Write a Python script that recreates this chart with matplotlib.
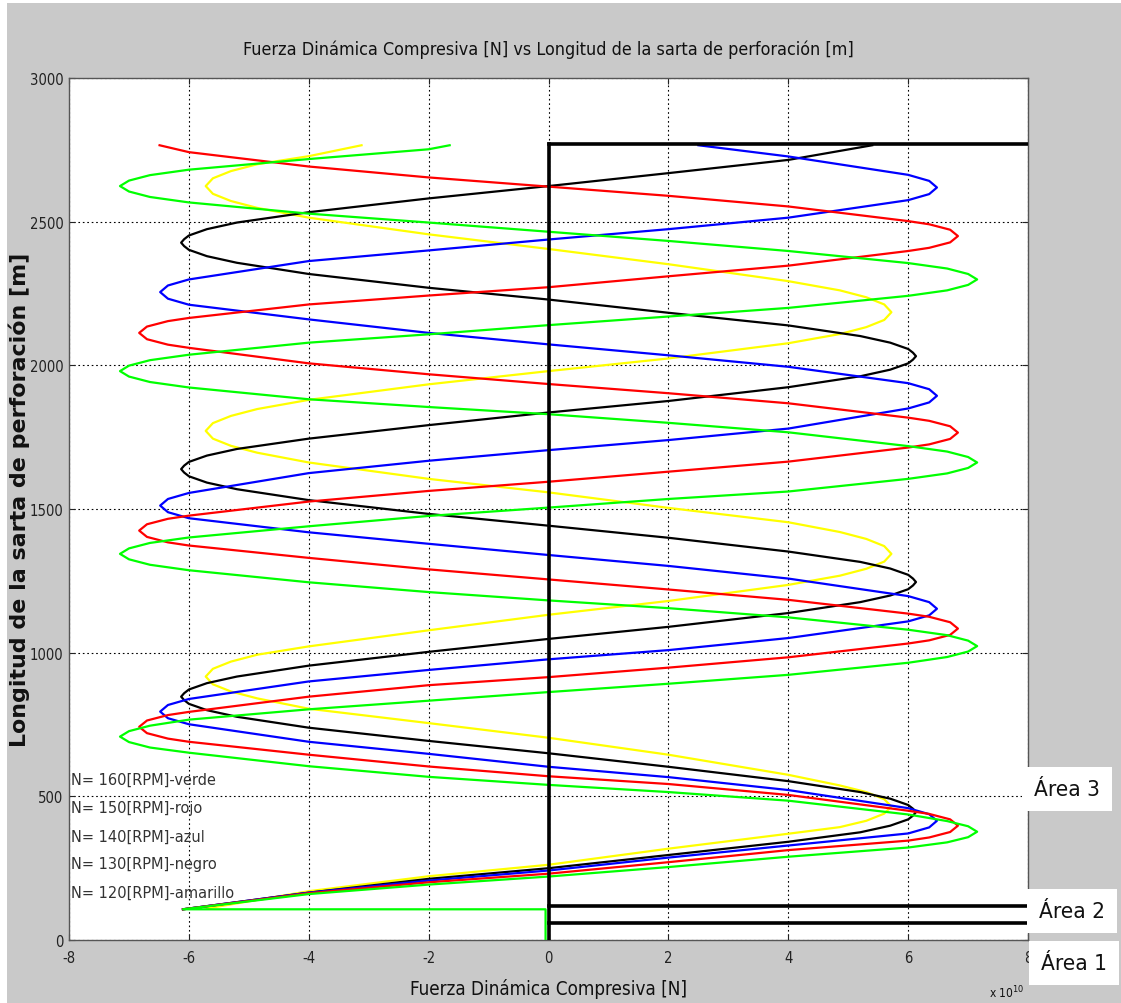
import matplotlib
matplotlib.use("Agg")
import matplotlib.pyplot as plt
from matplotlib import font_manager
from matplotlib.font_manager import FontProperties
from matplotlib.patches import Rectangle

plt.rcParams["axes.unicode_minus"] = False

# Fuerza dinamica compresiva (x 1e10 N) vs longitud de la sarta (m)
verde_x = [-0.05, -0.05, -6.1,
           -4, -2, 0, 2, 4, 6, 6.65, 7.0, 7.15,
           7.0, 6.65, 6, 4, 2, 0, -2, -4, -6, -6.65, -7.0, -7.15,
           -7.0, -6.65, -6, -4, -2, 0, 2, 4, 6, 6.65, 7.0, 7.15,
           7.0, 6.65, 6, 4, 2, 0, -2, -4, -6, -6.65, -7.0, -7.15,
           -7.0, -6.65, -6, -4, -2, 0, 2, 4, 6, 6.65, 7.0, 7.15,
           7.0, 6.65, 6, 4, 2, 0, -2, -4, -6, -6.65, -7.0, -7.15,
           -7.0, -6.65, -6, -4, -2, 0, 2, 4, 6, 6.65, 7.0, 7.15,
           7.0, 6.65, 6, 4, 2, 0, -2, -4, -6, -6.65, -7.0, -7.15,
           -7.0, -6.65, -6, -4, -2, -1.65]
verde_y = [0, 107, 107,
           160, 193, 221, 254, 290, 322, 340, 358, 377,
           396, 414, 437, 485, 515, 540, 568, 605, 652, 670, 689, 708,
           727, 746, 767, 803, 833, 863, 892, 923, 965, 985, 1004, 1023,
           1042, 1061, 1080, 1123, 1155, 1182, 1211, 1245, 1287, 1306, 1325, 1344,
           1363, 1382, 1401, 1440, 1476, 1505, 1535, 1561, 1605, 1624, 1643, 1662,
           1681, 1700, 1719, 1767, 1800, 1830, 1855, 1882, 1923, 1942, 1961, 1980,
           1999, 2018, 2037, 2079, 2108, 2140, 2170, 2200, 2242, 2261, 2280, 2299,
           2318, 2337, 2356, 2398, 2433, 2465, 2497, 2528, 2567, 2586, 2605, 2624,
           2643, 2662, 2681, 2718, 2752, 2766]

rojo_x = [-6.1, -4, -2, 0, 2, 4, 6, 6.35, 6.7, 6.83,
          6.7, 6.35, 6, 4, 2, 0, -2, -4, -6, -6.35, -6.7, -6.83,
          -6.7, -6.35, -6, -4, -2, 0, 2, 4, 6, 6.35, 6.7, 6.83,
          6.7, 6.35, 6, 4, 2, 0, -2, -4, -6, -6.35, -6.7, -6.83,
          -6.7, -6.35, -6, -4, -2, 0, 2, 4, 6, 6.35, 6.7, 6.83,
          6.7, 6.35, 6, 4, 2, 0, -2, -4, -6, -6.35, -6.7, -6.83,
          -6.7, -6.35, -6, -4, -2, 0, 2, 4, 6, 6.35, 6.7, 6.83,
          6.7, 6.35, 6, 4, 2, 0, -2, -4, -6, -6.49]
rojo_y = [107, 163, 201, 231, 271, 313, 346, 357, 376, 398,
          420, 439, 450, 505, 543, 570, 604, 645, 690, 701, 720, 742,
          764, 783, 794, 847, 887, 915, 948, 984, 1032, 1043, 1062, 1084,
          1106, 1125, 1136, 1184, 1220, 1255, 1290, 1330, 1373, 1384, 1403, 1425,
          1447, 1466, 1477, 1526, 1563, 1595, 1630, 1665, 1714, 1725, 1744, 1766,
          1788, 1807, 1818, 1868, 1903, 1935, 1969, 2007, 2061, 2072, 2091, 2113,
          2135, 2154, 2165, 2212, 2243, 2272, 2310, 2347, 2398, 2409, 2428, 2450,
          2472, 2491, 2502, 2553, 2590, 2622, 2654, 2692, 2742, 2766]

azul_x = [-6.1, -4, -2, 0, 2, 4, 6, 6.35, 6.48,
          6.35, 6, 4, 2, 0, -2, -4, -6, -6.35, -6.48,
          -6.35, -6, -4, -2, 0, 2, 4, 6, 6.35, 6.48,
          6.35, 6, 4, 2, 0, -2, -4, -6, -6.35, -6.48,
          -6.35, -6, -4, -2, 0, 2, 4, 6, 6.35, 6.48,
          6.35, 6, 4, 2, 0, -2, -4, -6, -6.35, -6.48,
          -6.35, -6, -4, -2, 0, 2, 4, 6, 6.35, 6.48,
          6.35, 6, 4, 2.5]
azul_y = [107, 165, 207, 242, 287, 329, 371, 392, 415,
          438, 459, 522, 567, 603, 648, 690, 751, 772, 795,
          818, 839, 900, 940, 977, 1009, 1051, 1109, 1130, 1153,
          1176, 1197, 1258, 1302, 1340, 1379, 1419, 1468, 1489, 1512,
          1535, 1556, 1625, 1668, 1705, 1740, 1780, 1850, 1871, 1894,
          1917, 1938, 1995, 2035, 2073, 2113, 2160, 2211, 2232, 2255,
          2278, 2299, 2363, 2400, 2438, 2474, 2514, 2575, 2596, 2619,
          2642, 2663, 2727, 2766]

negro_x = [-6.1, -4, -2, 0, 2, 4, 5.2, 5.7, 6.0, 6.08, 6.13,
           6.08, 6, 5.7, 5.2, 4, 2, 0, -2, -4, -5.2, -5.7, -6, -6.08, -6.13,
           -6.08, -6, -5.7, -5.2, -4, -2, 0, 2, 4, 5.2, 5.7, 6, 6.08, 6.13,
           6.08, 6, 5.7, 5.2, 4, 2, 0, -2, -4, -5.2, -5.7, -6, -6.08, -6.13,
           -6.08, -6, -5.7, -5.2, -4, -2, 0, 2, 4, 5.2, 5.7, 6, 6.08, 6.13,
           6.08, 6, 5.7, 5.2, 4, 2, 0, -2, -4, -5.2, -5.7, -6, -6.08, -6.13,
           -6.08, -6, -5.7, -5.2, -4, -2, 0, 2, 4, 5.4]
negro_y = [107, 165, 213, 250, 296, 342, 375, 398, 420, 433, 445,
           457, 470, 492, 515, 553, 603, 650, 693, 739, 777, 800, 822, 835, 847,
           859, 872, 894, 917, 955, 1003, 1048, 1090, 1138, 1176, 1199, 1221, 1234, 1246,
           1258, 1271, 1293, 1316, 1352, 1400, 1442, 1483, 1531, 1569, 1592, 1614, 1627, 1639,
           1651, 1664, 1686, 1709, 1745, 1792, 1836, 1876, 1924, 1962, 1985, 2007, 2020, 2032,
           2044, 2057, 2079, 2102, 2139, 2183, 2229, 2270, 2318, 2357, 2380, 2402, 2415, 2427,
           2439, 2452, 2474, 2497, 2533, 2581, 2624, 2669, 2715, 2766]

amarillo_x = [-5.7, -4, -2, 0, 2, 4, 4.86, 5.3, 5.6, 5.72,
              5.6, 5.3, 4.86, 4, 2, 0, -2, -4, -4.86, -5.3, -5.6, -5.72,
              -5.6, -5.3, -4.86, -4, -2, 0, 2, 4, 4.86, 5.3, 5.6, 5.72,
              5.6, 5.3, 4.86, 4, 2, 0, -2, -4, -4.86, -5.3, -5.6, -5.72,
              -5.6, -5.3, -4.86, -4, -2, 0, 2, 4, 4.86, 5.3, 5.6, 5.72,
              5.6, 5.3, 4.86, 4, 2, 0, -2, -4, -4.86, -5.3, -5.6, -5.72,
              -5.6, -5.3, -4.86, -4, -3.12]
amarillo_y = [110, 170, 222, 262, 318, 370, 393, 415, 440, 465,
              490, 515, 538, 575, 645, 704, 755, 805, 841, 865, 890, 917,
              944, 969, 993, 1022, 1078, 1132, 1180, 1236, 1268, 1292, 1317, 1344,
              1371, 1396, 1420, 1454, 1504, 1558, 1605, 1662, 1696, 1720, 1745, 1772,
              1799, 1824, 1848, 1880, 1934, 1980, 2024, 2077, 2109, 2133, 2158, 2185,
              2212, 2237, 2261, 2293, 2352, 2405, 2456, 2514, 2548, 2572, 2597, 2624,
              2651, 2676, 2700, 2728, 2766]

# limites de las areas (m)
area_lim = [58, 119, 2770]

series = [
    (amarillo_x, amarillo_y, "#ffff00"),
    (negro_x, negro_y, "#000000"),
    (azul_x, azul_y, "#0000ff"),
    (rojo_x, rojo_y, "#ff0000"),
    (verde_x, verde_y, "#00ff00"),
]
leyenda = ["N= 160[RPM]-verde", "N= 150[RPM]-rojo", "N= 140[RPM]-azul",
           "N= 130[RPM]-negro", "N= 120[RPM]-amarillo"]
leyenda_y = [560, 463, 362, 265, 167]
area_txt = ["Área 3", "Área 2", "Área 1"]


def narrow_font():
    # busca una fuente estrecha instalada, si no usa DejaVu Sans normal
    files = [f.fname for f in font_manager.fontManager.ttflist]
    for key in ["LiberationSansNarrow-Regular", "DejaVuSansCondensed.ttf"]:
        for fn in files:
            if key.lower() in fn.lower():
                return FontProperties(fname=fn)
    return FontProperties(family="DejaVu Sans")


base_fp = narrow_font()
bg = "#c9c9c9"

fig = plt.figure(figsize=(11.21, 10.04), dpi=100, facecolor=bg)
fig.patches.append(Rectangle((0, 0.996), 1, 0.004, transform=fig.transFigure,
                             facecolor="white", edgecolor="none"))
fig.patches.append(Rectangle((0, 0), 0.006, 1, transform=fig.transFigure,
                             facecolor="white", edgecolor="none"))
renderer = fig.canvas.get_renderer()


def fit(t, target, vertical=False):
    # ajusta el tamano de letra para que el texto ocupe lo mismo que en la imagen
    bb = t.get_window_extent(renderer)
    size = bb.height if vertical else bb.width
    t.set_fontsize(t.get_fontsize() * target / size)
    return t.get_fontsize()


def fp_size(s):
    fp = base_fp.copy()
    fp.set_size(s)
    return fp


ax = fig.add_axes([0.0616, 0.0627, 0.8555, 0.8586])
ax.set_facecolor("white")

for xs, ys, c in series:
    ax.plot(xs, ys, color=c, lw=1.6, zorder=3)

ax.plot([0, 0], [0, area_lim[2]], color="black", lw=2.6, zorder=4)
for yl in area_lim:
    ax.plot([0, 8], [yl, yl], color="black", lw=2.6, zorder=4)

probe = ax.text(-7.97, leyenda_y[0], leyenda[0], fontproperties=fp_size(12))
leg_size = fit(probe, 146)
probe.remove()
for txt, yy in zip(leyenda, leyenda_y):
    ax.text(-7.97, yy, txt, fontproperties=fp_size(leg_size), color="#333333",
            va="center", ha="left", zorder=5)

ax.set_xlim(-8, 8)
ax.set_ylim(0, 3000)
ax.set_xticks(range(-8, 9, 2))
ax.set_yticks(range(0, 3001, 500))
ax.grid(True, color="black", lw=0.8, linestyle=(0, (1.5, 2.5)))
ax.tick_params(direction="in", top=True, right=True, length=4, width=0.8,
               colors="#222222")
ax.tick_params(axis="y", pad=4)
ax.tick_params(axis="x", pad=7)

probe = fig.text(0.5, 0.5, "3000", fontproperties=fp_size(10))
tick_size = fit(probe, 34)
probe.remove()
for lab in ax.get_xticklabels() + ax.get_yticklabels():
    lab.set_fontproperties(fp_size(tick_size))
for s in ax.spines.values():
    s.set_color("#555555")
    s.set_linewidth(1.0)

t = fig.text(0.4895, 0.950, "Fuerza Dinámica Compresiva [N] vs Longitud de la sarta de perforación [m]",
             fontproperties=fp_size(13), ha="center", va="center", color="#111111")
fit(t, 610)
t = fig.text(0.4895, 0.0145, "Fuerza Dinámica Compresiva [N]", fontproperties=fp_size(15),
             ha="center", va="center", color="#111111")
fit(t, 278)
t = fig.text(0.0175, 0.502, "Longitud de la sarta de perforación [m]", fontsize=16,
             fontweight="bold", rotation=90, ha="center", va="center", color="#111111",
             family="DejaVu Sans")
fit(t, 495, vertical=True)
fig.text(0.898, 0.011, "x 10$^{10}$", fontproperties=fp_size(tick_size * 0.8),
         ha="center", va="center", color="#111111")

box = dict(facecolor="white", edgecolor="none", pad=8)
area_pos = [(0.952, 0.213), (0.956, 0.092), (0.958, 0.040)]
for txt, (px, py) in zip(area_txt, area_pos):
    t = fig.text(px, py, txt, fontproperties=fp_size(15), ha="center",
                 va="center", color="#111111", bbox=box)
    fit(t, 66)

fig.savefig("out.png", dpi=100, facecolor=bg)
